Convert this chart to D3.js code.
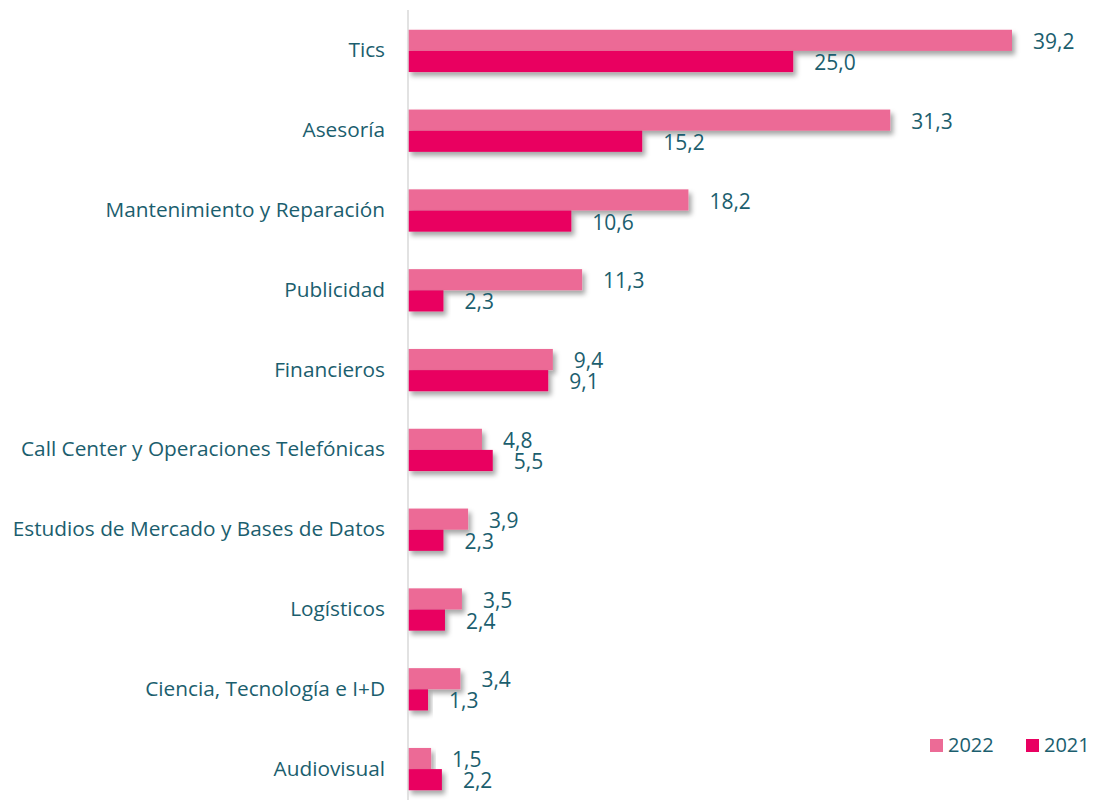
<!DOCTYPE html>
<html>
<head>
<meta charset="utf-8">
<script src="https://cdn.jsdelivr.net/npm/d3@7"></script>
<style>
  html, body { margin: 0; padding: 0; background: #fff; }
  svg { display: block; }
  text { font-family: "Open Sans", Lato, sans-serif; fill: #1B5E6E; }
</style>
</head>
<body>
<svg id="chart" width="1097" height="800"></svg>
<script>
// Sectors and their values for each year
const categories = [
  "Tics", "Asesoría", "Mantenimiento y Reparación", "Publicidad", "Financieros",
  "Call Center y Operaciones Telefónicas", "Estudios de Mercado y Bases de Datos",
  "Logísticos", "Ciencia, Tecnología e I+D", "Audiovisual"
];
const values2022 = [39.2, 31.3, 18.2, 11.3, 9.4, 4.8, 3.9, 3.5, 3.4, 1.5];
const values2021 = [25.0, 15.2, 10.6, 2.3, 9.1, 5.5, 2.3, 2.4, 1.3, 2.2];
const seriesNames = ["2022", "2021"];
const seriesColors = ["#EC6B96", "#E90061"];

const svg = d3.select("#chart");
const x0 = 408;

const x = d3.scaleLinear().domain([0, 39.2]).range([x0, 1012]);
const y = d3.scaleBand().domain(categories).range([11, 809]).paddingInner(0.47).paddingOuter(0.235);
const sub = d3.scaleBand().domain(seriesNames).range([0, y.bandwidth()]);

// soft drop shadow under the bars
const defs = svg.append("defs");
const f = defs.append("filter").attr("id", "shadow").attr("x", "-10%").attr("y", "-30%").attr("width", "130%").attr("height", "180%");
f.append("feDropShadow").attr("dx", 3).attr("dy", 4).attr("stdDeviation", 2.5)
  .attr("flood-color", "#000").attr("flood-opacity", 0.35);

const fmt = v => v.toFixed(1).replace(".", ",");

const rows = categories.map((c, i) => ({
  cat: c,
  series: [
    { name: "2022", value: values2022[i] },
    { name: "2021", value: values2021[i] }
  ]
}));

const color = d3.scaleOrdinal().domain(seriesNames).range(seriesColors);

const g = svg.append("g");
const groups = g.selectAll("g.row").data(rows).join("g")
  .attr("class", "row")
  .attr("transform", d => `translate(0,${y(d.cat)})`);

groups.selectAll("rect").data(d => d.series).join("rect")
  .attr("x", x0)
  .attr("y", d => sub(d.name))
  .attr("width", d => x(d.value) - x0)
  .attr("height", sub.bandwidth())
  .attr("fill", d => color(d.name))
  .attr("filter", "url(#shadow)");

groups.selectAll("text.val").data(d => d.series).join("text")
  .attr("class", "val")
  .attr("x", d => x(d.value) + 21)
  .attr("y", d => sub(d.name) + sub.bandwidth() / 2 + 3)
  .attr("dominant-baseline", "middle")
  .attr("font-size", 21)
  .text(d => fmt(d.value));

// category labels
g.selectAll("text.cat").data(categories).join("text")
  .attr("class", "cat")
  .attr("x", 385)
  .attr("y", d => y(d) + y.bandwidth() / 2 + 1)
  .attr("dominant-baseline", "middle")
  .attr("text-anchor", "end")
  .attr("font-size", 20.8)
  .text(d => d);

// vertical category axis line
svg.append("line")
  .attr("x1", x0).attr("x2", x0).attr("y1", 10).attr("y2", 800)
  .attr("stroke", "#D9D9D9").attr("stroke-width", 1.5);

// legend
const legend = svg.append("g");
const legendX = [930, 1026];
seriesNames.forEach((n, i) => {
  legend.append("rect").attr("x", legendX[i]).attr("y", 739).attr("width", 13).attr("height", 13).attr("fill", color(n));
  legend.append("text").attr("x", legendX[i] + 18).attr("y", 747)
    .attr("dominant-baseline", "middle").attr("font-size", 20).text(n);
});
</script>
</body>
</html>
